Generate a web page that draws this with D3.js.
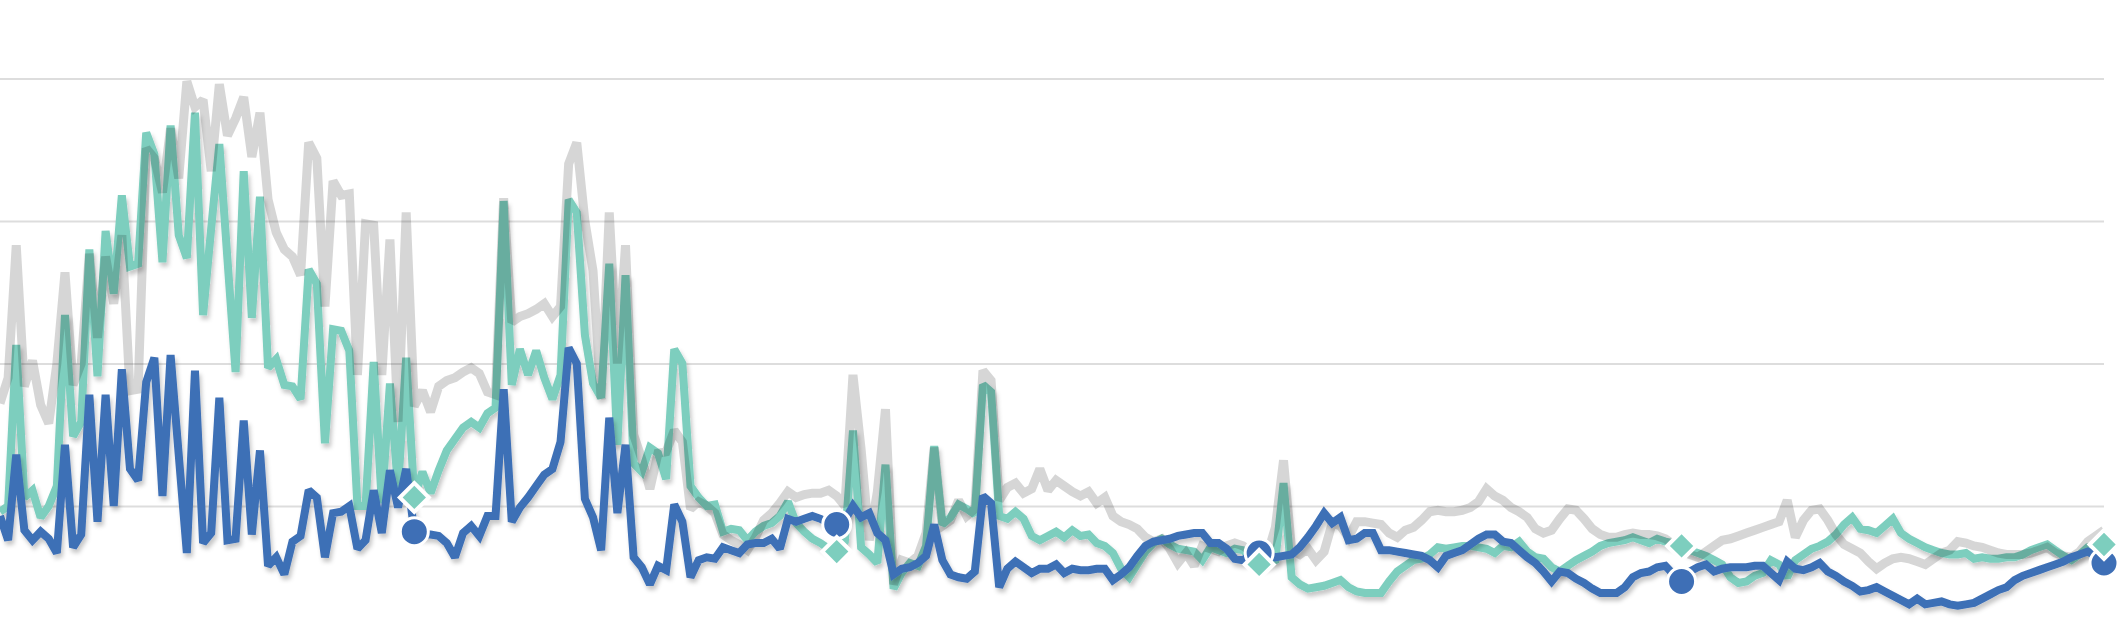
<!DOCTYPE html>
<html lang="en">
<head>
    <meta charset="utf-8">
    <title>Weekly series</title>
    <script type="text/javascript" src="https://d3js.org/d3.v7.min.js"></script>
    <style>
    body {
      margin: 0;
      background: #fff;
    }
    svg {
      display: block;
    }
    .grid line {
      stroke: #dddddd;
      stroke-width: 2;
    }
    .grid path {
      display: none;
    }
    .serie {
      fill: none;
      stroke-linejoin: miter;
      stroke-miterlimit: 2;
    }
    </style>
</head>
<body>
    <svg width="2118" height="629"></svg>

    <script>

    // weekly values (one gridline = 100)
    var blue = [
      93, 76, 136, 83, 76, 82, 77, 67, 143, 71,
      80, 178, 89, 178, 100, 196, 126, 118, 187, 204,
      107, 206, 136, 67, 195, 74, 81, 176, 76, 77,
      160, 80, 139, 58, 64, 52, 75, 79, 111, 106,
      64, 95, 96, 100, 70, 76, 111, 81, 125, 99,
      126, 82, 80, 80, 79, 74, 64, 81, 86, 79,
      93, 93, 182, 89, 99, 106, 114, 122, 126, 145,
      211, 200, 105, 92, 69, 162, 95, 143, 64, 57,
      45, 58, 55, 101, 89, 50, 62, 64, 63, 71,
      69, 67, 73, 74, 74, 77, 70, 91, 89, 91,
      93, 91, 88, 87, 90, 100, 92, 95, 81, 76,
      52, 56, 57, 60, 65, 87, 62, 52, 50, 49,
      54, 107, 102, 43, 56, 61, 57, 53, 56, 56,
      59, 53, 56, 55, 55, 56, 56, 48, 52, 57,
      65, 72, 75, 76, 77, 79, 80, 81, 81, 74,
      74, 70, 63, 62, 66, 67, 66, 64, 65, 66,
      71, 78, 86, 95, 88, 92, 76, 77, 81, 81,
      69, 69, 68, 67, 66, 65, 62, 57, 65, 67,
      69, 73, 77, 80, 80, 75, 74, 69, 64, 60,
      54, 47, 54, 53, 49, 46, 42, 39, 39, 39,
      43, 50, 53, 54, 57, 58, 52, 47, 54, 57,
      59, 54, 56, 57, 57, 57, 58, 58, 53, 48,
      61, 56, 55, 57, 60, 54, 51, 47, 44, 40,
      41, 43, 40, 37, 34, 31, 35, 31, 32, 33,
      31, 30, 31, 32, 35, 38, 41, 43, 48, 51,
      53, 55, 57, 59, 61, 64, 66, 68, 65, 60
    ];

    var teal = [
      96, 100, 213, 106, 111, 92, 100, 114, 234, 149,
      159, 280, 191, 293, 249, 318, 268, 270, 362, 347,
      271, 367, 290, 274, 376, 234, 295, 354, 273, 194,
      335, 232, 317, 197, 203, 185, 184, 175, 266, 256,
      144, 224, 223, 209, 100, 100, 201, 102, 186, 112,
      204, 106, 124, 109, 125, 139, 147, 155, 159, 155,
      165, 169, 314, 185, 210, 192, 209, 190, 175, 192,
      315, 306, 220, 186, 176, 270, 143, 262, 130, 124,
      141, 137, 119, 210, 200, 114, 106, 100, 101, 82,
      84, 83, 76, 82, 86, 88, 93, 103, 88, 82,
      77, 74, 70, 68, 75, 153, 71, 66, 60, 129,
      42, 53, 60, 58, 72, 142, 87, 92, 101, 98,
      94, 185, 180, 93, 91, 96, 91, 79, 76, 79,
      82, 78, 83, 79, 80, 74, 72, 67, 56, 50,
      59, 68, 74, 77, 73, 70, 69, 68, 62, 71,
      69, 67, 70, 69, 64, 59, 60, 62, 116, 50,
      45, 42, 43, 44, 46, 48, 43, 40, 39, 39,
      39, 47, 54, 58, 62, 63, 66, 71, 70, 71,
      72, 72, 71, 70, 67, 72, 71, 75, 68, 64,
      63, 57, 54, 58, 62, 65, 68, 72, 74, 75,
      76, 78, 76, 74, 77, 75, 74, 72, 69, 67,
      65, 62, 59, 50, 46, 47, 51, 53, 62, 59,
      50, 62, 66, 70, 72, 75, 80, 87, 92, 84,
      83, 81, 86, 91, 81, 77, 74, 71, 69, 67,
      66, 66, 67, 63, 64, 63, 63, 64, 64, 66,
      69, 71, 73, 69, 65, 62, 66, 71, 72, 73
    ];

    var gray = [
      172, 190, 283, 184, 202, 171, 158, 200, 264, 185,
      200, 277, 218, 275, 242, 290, 181, 182, 351, 344,
      320, 365, 330, 398, 380, 385, 335, 396, 360, 372,
      387, 345, 376, 315, 292, 280, 275, 262, 355, 344,
      240, 328, 318, 319, 192, 298, 297, 192, 287, 159,
      306, 170, 181, 166, 184, 188, 190, 194, 197, 193,
      180, 178, 316, 229, 233, 235, 238, 242, 233, 240,
      340, 355, 300, 265, 175, 306, 200, 283, 150, 133,
      112, 137, 138, 153, 145, 98, 103, 100, 95, 80,
      76, 73, 69, 78, 90, 95, 102, 110, 106, 108,
      109, 109, 111, 107, 100, 192, 140, 76, 110, 168,
      45, 62, 60, 65, 81, 141, 86, 90, 104, 93,
      98, 195, 188, 104, 113, 116, 109, 112, 126, 111,
      118, 114, 110, 107, 110, 102, 106, 93, 89, 87,
      84, 78, 75, 77, 70, 60, 67, 58, 72, 70,
      68, 72, 74, 72, 68, 64, 66, 85, 132, 69,
      66, 70, 62, 68, 88, 86, 78, 89, 89, 88,
      87, 81, 78, 83, 85, 90, 96, 97, 96, 96,
      97, 99, 103, 112, 107, 104, 99, 96, 92, 84,
      81, 83, 91, 98, 97, 91, 84, 80, 78, 78,
      80, 81, 80, 80, 79, 77, 73, 70, 66, 64,
      68, 72, 76, 77, 79, 81, 83, 85, 87, 89,
      104, 78, 90, 97, 98, 90, 80, 73, 70, 67,
      61, 56, 60, 63, 64, 63, 61, 59, 63, 67,
      69, 75, 74, 72, 71, 69, 67, 66, 66, 66,
      67, 69, 71, 67, 65, 64, 68, 75, 79, 83
    ];

    // weeks that carry a marker (one a year)
    var markWeeks = [51, 103, 155, 207, 259];
    var gridTicks = [100, 200, 300, 400];

    var svg = d3.select("svg"),
        width = +svg.attr("width"),
        height = +svg.attr("height");

    var x = d3.scaleLinear()
        .domain([0, blue.length - 1])
        .range([0, 2104]);

    var y = d3.scaleLinear()
        .domain([0, 400])
        .range([648.5, 78.5]);

    // soft shadow under the lines
    var defs = svg.append("defs");
    var f = defs.append("filter")
        .attr("id", "shadow")
        .attr("x", "-5%").attr("y", "-20%")
        .attr("width", "110%").attr("height", "140%");
    f.append("feDropShadow")
        .attr("dx", 2).attr("dy", 4)
        .attr("stdDeviation", 2)
        .attr("flood-color", "#000")
        .attr("flood-opacity", 0.22);

    //gridlines
    svg.append("g")
        .attr("class", "grid")
        .call(d3.axisLeft(y).tickValues(gridTicks).tickSize(-2104).tickFormat(""));

    var line = d3.line()
        .x(function(d, i) { return x(i); })
        .y(function(d) { return y(d); });

    svg.append("path")
        .datum(teal)
        .attr("class", "serie")
        .attr("stroke", "#7dcebe")
        .attr("stroke-width", 8)
        .attr("filter", "url(#shadow)")
        .attr("d", line);

    svg.append("path")
        .datum(gray)
        .attr("class", "serie")
        .attr("stroke", "#000")
        .attr("stroke-opacity", 0.16)
        .attr("stroke-width", 9)
        .attr("d", line);

    svg.append("path")
        .datum(blue)
        .attr("class", "serie")
        .attr("stroke", "#3e6fb6")
        .attr("stroke-width", 8)
        .attr("filter", "url(#shadow)")
        .attr("d", line);

    //markers
    svg.selectAll(".dot")
        .data(markWeeks)
        .enter().append("circle")
          .attr("class", "dot")
          .attr("cx", function(d) { return x(d); })
          .attr("cy", function(d) { return y(blue[d]); })
          .attr("r", 14)
          .attr("fill", "#3e6fb6")
          .attr("stroke", "#fff")
          .attr("stroke-width", 3);

    svg.selectAll(".diamond")
        .data(markWeeks)
        .enter().append("path")
          .attr("class", "diamond")
          .attr("transform", function(d) { return "translate(" + x(d) + "," + y(teal[d]) + ") rotate(45)"; })
          .attr("d", d3.symbol().type(d3.symbolSquare).size(420))
          .attr("fill", "#7dcebe")
          .attr("stroke", "#fff")
          .attr("stroke-width", 4);

    </script>
</body>
</html>
